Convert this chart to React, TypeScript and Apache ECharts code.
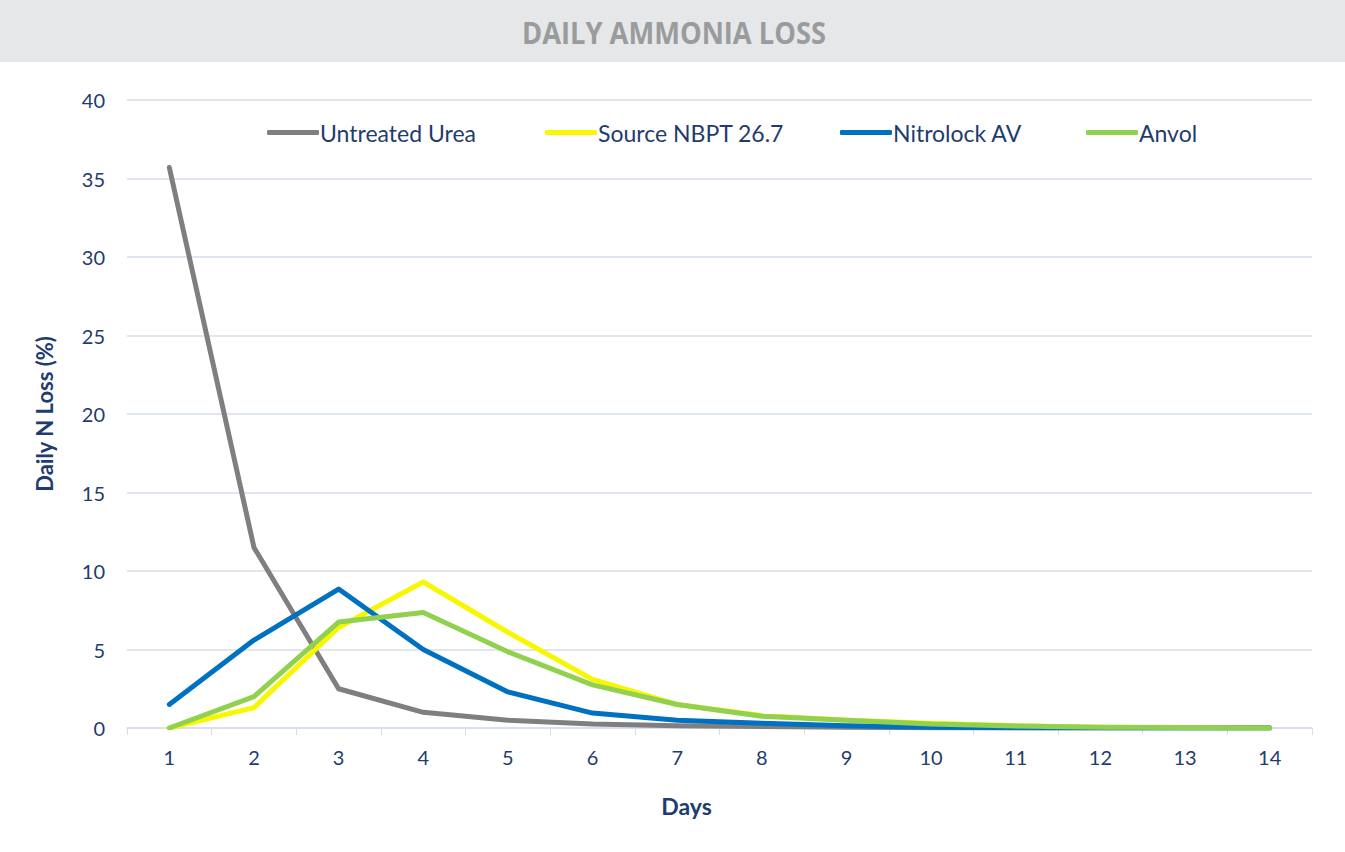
import React, { useEffect, useRef } from "react";
import * as echarts from "echarts";

const days = ["1", "2", "3", "4", "5", "6", "7", "8", "9", "10", "11", "12", "13", "14"];
const seriesNames = ["Untreated Urea", "Source NBPT 26.7", "Nitrolock AV", "Anvol"];
const untreatedUrea = [35.7, 11.5, 2.5, 1.0, 0.5, 0.25, 0.15, 0.1, 0.05, 0.02, 0, 0, 0, 0];
const sourceNbpt = [0, 1.3, 6.4, 9.3, 6.1, 3.1, 1.5, 0.8, 0.5, 0.3, 0.15, 0.05, 0.02, 0];
const nitrolockAv = [1.5, 5.6, 8.85, 5.0, 2.3, 0.95, 0.5, 0.3, 0.15, 0.05, 0.02, 0, 0, 0];
const anvol = [0, 2.0, 6.75, 7.35, 4.85, 2.75, 1.5, 0.75, 0.5, 0.25, 0.12, 0.05, 0.03, 0];

const navy = "#1f3c6e";
const font = "Lato";
const legendLefts = [262, 540, 835, 1081];

export default function App() {
  const ref = useRef<HTMLDivElement>(null);
  useEffect(() => {
    if (!ref.current) return;
    const chart = echarts.init(ref.current, null, { renderer: "svg" });
    const mk = (name: string, data: number[], color: string) => ({
      name,
      type: "line",
      data,
      symbol: "none",
      lineStyle: { width: 5, color, cap: "round", join: "round" },
      itemStyle: { color },
    });
    chart.setOption({
      animation: false,
      backgroundColor: "#ffffff",
      graphic: [
        { type: "rect", left: 0, top: 0, shape: { width: 1345, height: 62 }, style: { fill: "#e6e7e9" }, z: 0 },
        {
          type: "text",
          x: 674,
          y: 32,
          scaleX: 0.91,
          style: {
            text: "DAILY AMMONIA LOSS",
            fill: "#9a9b9d",
            font: `bold 30px "Open Sans"`,
            align: "center",
            verticalAlign: "middle",
          },
        },
      ],
      legend: seriesNames.map((n, i) => ({
        top: 116,
        left: legendLefts[i],
        itemWidth: 52,
        itemHeight: 5,
        icon: "roundRect",
        textStyle: { color: navy, fontSize: 23, fontFamily: font, padding: [0, 0, 0, -4] },
        data: [n],
      })),
      grid: { left: 127, right: 33, top: 100, bottom: 124, containLabel: false },
      xAxis: {
        type: "category",
        data: days,
        boundaryGap: true,
        name: "Days",
        nameLocation: "middle",
        nameGap: 66,
        nameTextStyle: { color: navy, fontSize: 23, fontWeight: "bold", fontFamily: font, padding: [0, 66, 0, 0] },
        axisLine: { lineStyle: { color: "#d6deea", width: 1.5 } },
        axisTick: { show: true, alignWithLabel: false, length: 7, lineStyle: { color: "#d6deea" } },
        axisLabel: { color: navy, fontSize: 20, fontFamily: font, margin: 19 },
      },
      yAxis: {
        type: "value",
        min: 0,
        max: 40,
        interval: 5,
        name: "Daily N Loss (%)",
        nameLocation: "middle",
        nameGap: 72,
        nameRotate: 90,
        nameTextStyle: { color: navy, fontSize: 22, fontWeight: "bold", fontFamily: font },
        axisLine: { show: false },
        axisTick: { show: false },
        splitLine: { lineStyle: { color: "#d6deea", width: 1.5 } },
        axisLabel: { color: navy, fontSize: 20, fontFamily: font, margin: 22 },
      },
      series: [
        mk(seriesNames[0], untreatedUrea, "#7f7f7f"),
        mk(seriesNames[1], sourceNbpt, "#f7f700"),
        mk(seriesNames[2], nitrolockAv, "#0070c0"),
        mk(seriesNames[3], anvol, "#92d050"),
      ],
    });
    return () => chart.dispose();
  }, []);
  return (
    <div
      ref={ref}
      style={{ position: "fixed", left: 0, top: 0, width: 1345, height: 852, background: "#fff" }}
    />
  );
}
